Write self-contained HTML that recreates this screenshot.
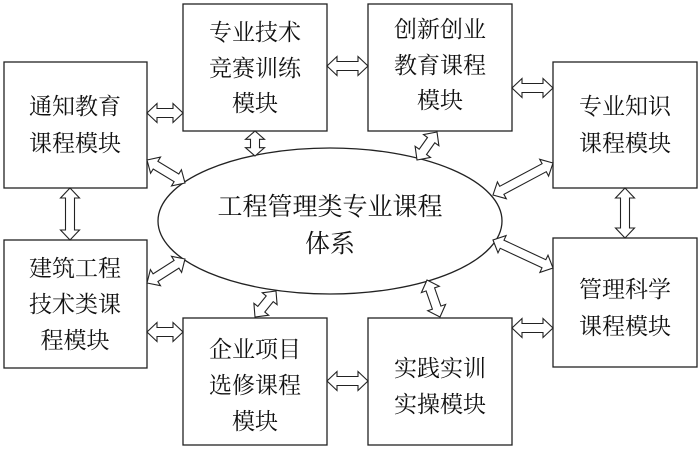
<!DOCTYPE html>
<html><head><meta charset="utf-8"><style>
html,body{margin:0;padding:0;background:#fff;}
svg{display:block}
text{font-family:"Liberation Serif","Noto Serif CJK SC",serif;font-size:23px;fill:#111;text-anchor:middle}
.big{font-size:25px}
</style></head><body>
<svg id="s" width="700" height="449" viewBox="0 0 700 449" xmlns="http://www.w3.org/2000/svg">
<g fill="#fff" stroke="#222" stroke-width="1.3">
<rect x="4" y="62" width="143" height="126"/>
<rect x="183" y="4" width="144" height="127"/>
<rect x="368" y="4" width="144" height="127"/>
<rect x="553" y="62" width="144" height="126"/>
<rect x="4" y="240" width="143" height="128"/>
<rect x="553" y="238" width="144" height="129"/>
<rect x="183" y="318" width="144" height="127"/>
<rect x="368" y="318" width="144" height="127"/>
<ellipse cx="330" cy="221" rx="172" ry="73"/>
</g>
<g id="arr" fill="#fff" stroke="#222" stroke-width="1.1"></g>
<text x="75" y="114">通知教育</text><text x="75" y="151">课程模块</text>
<text x="255" y="40">专业技术</text><text x="255" y="76">竞赛训练</text><text x="255" y="111">模块</text>
<text x="440" y="37">创新创业</text><text x="440" y="73">教育课程</text><text x="440" y="108">模块</text>
<text x="625" y="114">专业知识</text><text x="625" y="151">课程模块</text>
<text class="big" x="330" y="215">工程管理类专业课程</text><text class="big" x="330" y="252">体系</text>
<text x="75" y="276">建筑工程</text><text x="75" y="312">技术类课</text><text x="75" y="348">程模块</text>
<text x="625" y="297">管理科学</text><text x="625" y="334">课程模块</text>
<text x="255" y="357">企业项目</text><text x="255" y="393">选修课程</text><text x="255" y="429">模块</text>
<text x="440" y="376">实践实训</text><text x="440" y="412">实操模块</text>
</svg>
<script>
var A=[[147,113,183,113],[327,66,368,66],[512,88,553,88],[255,131,255,156],[437,132,417,160],
[147,160,185,183],[553,163,493,195],[493,240,553,268],[185,259,147,283],[276,291,255,317],
[427,280,440,317],[70,188,70,240],[625,188,625,238],[147,332,183,332],[327,381,368,381],[512,328,553,328]];
var g=document.getElementById('arr');
A.forEach(function(a){var x1=a[0],y1=a[1],x2=a[2],y2=a[3];var dx=x2-x1,dy=y2-y1,L=Math.hypot(dx,dy);
var ux=dx/L,uy=dy/L,nx=-uy,ny=ux,h=Math.min(10,L/3),w=4.5,W=9.5;
function p(t,s){return (x1+ux*t+nx*s).toFixed(1)+','+(y1+uy*t+ny*s).toFixed(1);}
var pts=[p(0,0),p(h,W),p(h,w),p(L-h,w),p(L-h,W),p(L,0),p(L-h,-W),p(L-h,-w),p(h,-w),p(h,-W)];
var e=document.createElementNS('http://www.w3.org/2000/svg','polygon');e.setAttribute('points',pts.join(' '));g.appendChild(e);});
</script>
</body></html>
